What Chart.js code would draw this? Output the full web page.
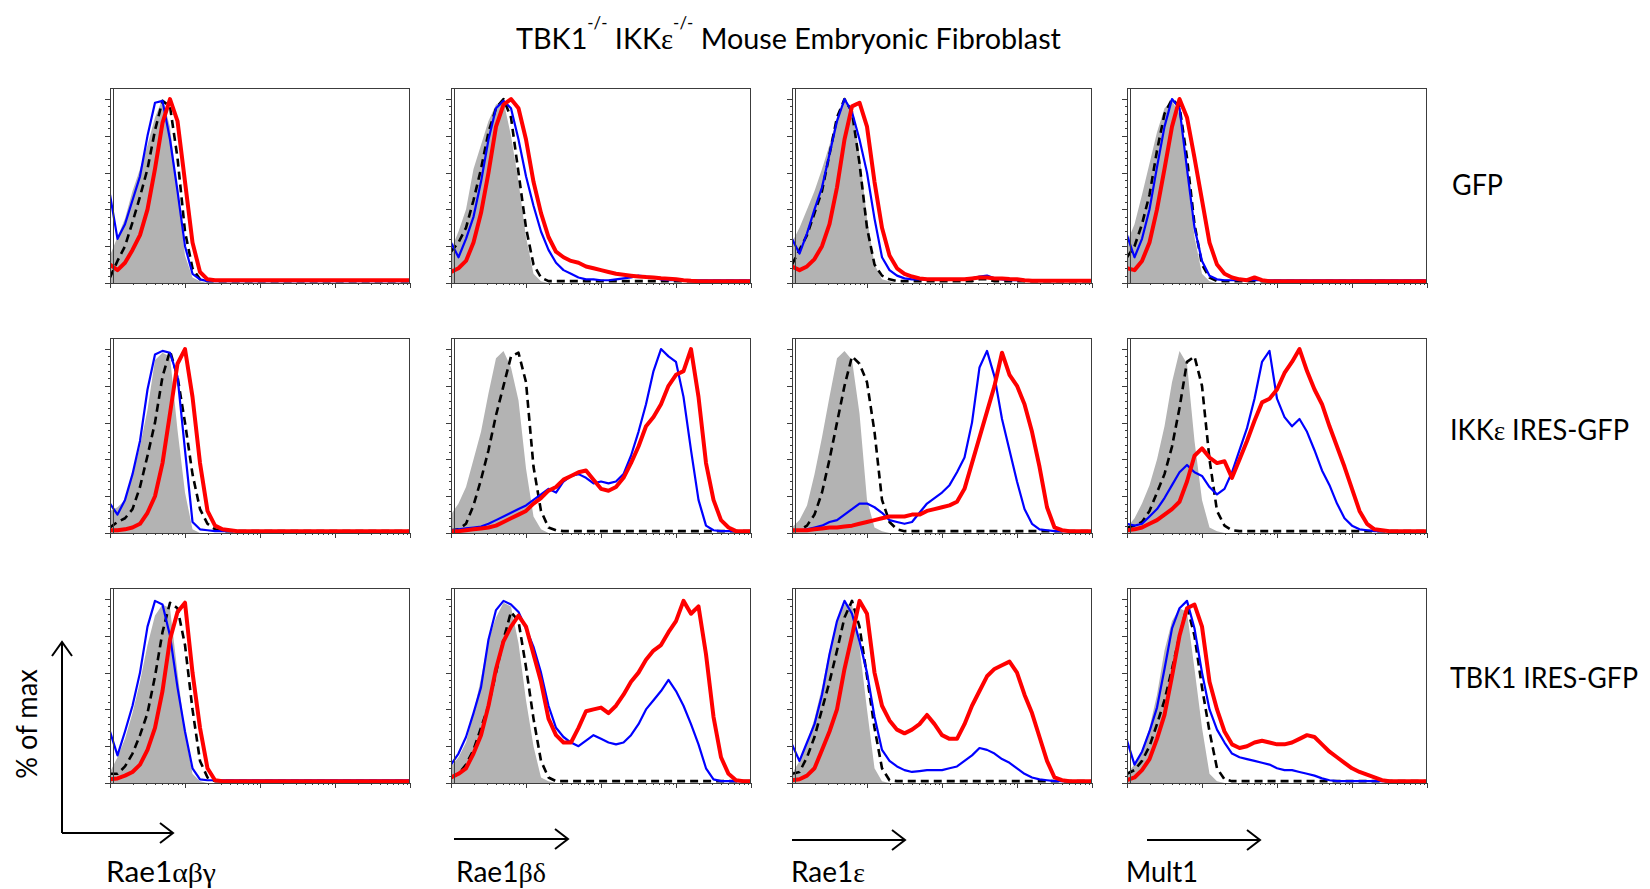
<!DOCTYPE html>
<html>
<head>
<meta charset="utf-8">
<title>TBK1 IKKε MEF histograms</title>
<script src="https://cdn.jsdelivr.net/npm/chart.js@4.4.1/dist/chart.umd.min.js"></script>
<style>
  html, body { margin: 0; padding: 0; background: #fff; }
  #fig { position: relative; width: 1650px; height: 889px; overflow: hidden; font-family: Lato, "Open Sans", sans-serif; color: #000; }
  #fig canvas { position: absolute; }
  .lbl { position: absolute; white-space: nowrap; line-height: 1; font-size: 28px; transform-origin: 0 50%; }
  .gk { font-family: "Liberation Serif", "DejaVu Serif", serif; }
  .sup { position: relative; top: -20px; font-size: 17px; }
  svg { position: absolute; left: 0; top: 0; }
</style>
</head>
<body>
<div id="fig">
  <div class="lbl" id="title" style="left:516px; top:23px; font-size:29px" data-w="545">TBK1<span class="sup">-/-</span> IKK<span class="gk">ε</span><span class="sup">-/-</span> Mouse Embryonic Fibroblast</div>
  <div class="lbl" id="ylab" data-w="110" data-rot="1">% of max</div>
  <svg width="1650" height="889">
    <g stroke="#000" stroke-width="2" fill="none">
      <path d="M62 833 V642 M52 656 L62 642 L72 656"/>
      <path d="M62 833 H173 M160 823 L173 833 L160 843"/>
      <path d="M454 839 H568 M555 829 L568 839 L555 849"/>
      <path d="M792 840 H905 M892 830 L905 840 L892 850"/>
      <path d="M1147 840 H1260 M1247 830 L1260 840 L1247 850"/>
    </g>
  </svg>
</div>
<script>
// x positions in decades of fluorescence (log axis), 0.1 decade steps
const decades = [0, 0.1, 0.2, 0.3, 0.4, 0.5, 0.6, 0.7, 0.8, 0.9,
  1, 1.1, 1.2, 1.3, 1.4, 1.5, 1.6, 1.7, 1.8, 1.9,
  2, 2.1, 2.2, 2.3, 2.4, 2.5, 2.6, 2.7, 2.8, 2.9,
  3, 3.1, 3.2, 3.3, 3.4, 3.5, 3.6, 3.7, 3.8, 3.9, 4];

const rowNames = ['GFP', 'IKKε IRES-GFP', 'TBK1 IRES-GFP'];
const colNames = ['Rae1αβγ', 'Rae1βδ', 'Rae1ε', 'Mult1'];
const yTicks = [0, 4, 8, 12, 16, 20, 24, 28, 32, 36, 40, 44, 48, 52, 56, 60, 64, 68, 72, 76, 80, 84, 88, 92, 96, 100];

// ---- GFP row (% of max) ----
const gfp_abg_grey = [15, 25, 35, 50, 62, 75, 90, 100, 85, 50,
  15, 3, 1, 0, 0, 0, 0, 0, 0, 0,
  0, 0, 0, 0, 0, 0, 0, 0, 0, 0,
  0, 0, 0, 0, 0, 0, 0, 0, 0, 0, 0];
const gfp_abg_dash = [3, 12, 20, 33, 47, 62, 83, 99, 96, 68,
  28, 8, 2, 1, 1, 1, 1, 1, 1, 1,
  1, 1, 1, 1, 1, 1, 1, 1, 1, 1,
  1, 1, 1, 1, 1, 1, 1, 1, 1, 1, 1];
const gfp_abg_blue = [48, 24, 32, 45, 58, 80, 98, 99, 78, 50,
  20, 5, 2, 1, 1, 1, 1, 1, 1, 1,
  1, 1, 1, 1, 1, 1, 1, 1, 1, 1,
  1, 1, 1, 1, 1, 1, 1, 1, 1, 1, 1];
const gfp_abg_red = [10, 7, 11, 18, 26, 40, 62, 87, 100, 88,
  55, 22, 6, 2, 1.5, 1.5, 1.5, 1.5, 1.5, 1.5,
  1.5, 1.5, 1.5, 1.5, 1.5, 1.5, 1.5, 1.5, 1.5, 1.5,
  1.5, 1.5, 1.5, 1.5, 1.5, 1.5, 1.5, 1.5, 1.5, 1.5, 1.5];

const gfp_bd_grey = [18, 28, 40, 62, 75, 88, 97, 99, 80, 55,
  25, 5, 1, 0, 0, 0, 0, 0, 0, 0,
  0, 0, 0, 0, 0, 0, 0, 0, 0, 0,
  0, 0, 0, 0, 0, 0, 0, 0, 0, 0, 0];
const gfp_bd_dash = [17, 22, 30, 45, 62, 82, 95, 100, 90, 60,
  30, 10, 3, 1, 1, 1, 1, 1, 1, 1,
  1, 1, 1, 1, 1, 1, 1, 1, 1, 1,
  1, 1, 1, 1, 1, 1, 1, 1, 1, 1, 1];
const gfp_bd_blue = [22, 14, 24, 36, 55, 78, 95, 99, 95, 78,
  58, 42, 28, 18, 11, 7, 5, 3, 2, 2,
  1.5, 1.5, 2, 2.5, 3, 4, 3.5, 3, 2, 1.5,
  1.5, 1.5, 1.5, 1.5, 1.5, 1.5, 1.5, 1.5, 1.5, 1.5, 1.5];
const gfp_bd_red = [6, 8, 12, 22, 38, 60, 85, 97, 100, 95,
  78, 55, 38, 25, 17, 14, 12, 11, 9, 8,
  7, 6, 5, 4.5, 4, 3.5, 3.2, 3, 2.6, 2.3,
  2, 1.5, 1.2, 1, 1, 1, 1, 1, 1, 1, 1];

const gfp_e_grey = [22, 30, 40, 50, 62, 75, 90, 99, 95, 70,
  35, 10, 2, 1, 0, 0, 0, 0, 0, 0,
  0, 0, 0, 0, 0, 0, 0, 0, 0, 0,
  0, 0, 0, 0, 0, 0, 0, 0, 0, 0, 0];
const gfp_e_dash = [10, 18, 26, 38, 50, 70, 90, 100, 93, 65,
  30, 10, 4, 2, 1, 1, 1, 1, 1, 1,
  1, 1, 1, 1, 1, 2, 2, 1, 1, 1,
  1, 1, 1, 1, 1, 1, 1, 1, 1, 1, 1];
const gfp_e_blue = [24, 16, 27, 40, 52, 70, 88, 100, 93, 78,
  60, 35, 14, 7, 4, 2.5, 2, 2, 2, 2,
  2, 2, 2, 2, 2.5, 3.5, 4, 2.5, 2, 1.5,
  1.5, 1.5, 1.5, 1.5, 1.5, 1.5, 1.5, 1.5, 1.5, 1.5, 1.5];
const gfp_e_red = [9, 7, 9, 13, 20, 32, 52, 78, 96, 98,
  85, 55, 30, 15, 8, 5, 3.5, 2.5, 2, 2,
  2, 2, 2, 2, 2.5, 3, 3, 2.5, 2.5, 2.2,
  2, 1.5, 1.2, 1.2, 1.2, 1.2, 1.2, 1.2, 1.2, 1.2, 1.2];

const gfp_m_grey = [22, 32, 48, 65, 82, 95, 99, 92, 60, 25,
  5, 1, 0, 0, 0, 0, 0, 0, 0, 0,
  0, 0, 0, 0, 0, 0, 0, 0, 0, 0,
  0, 0, 0, 0, 0, 0, 0, 0, 0, 0, 0];
const gfp_m_dash = [14, 20, 32, 48, 72, 92, 100, 96, 68, 32,
  10, 3, 1, 1, 1, 1, 1, 1, 1, 1,
  1, 1, 1, 1, 1, 1, 1, 1, 1, 1,
  1, 1, 1, 1, 1, 1, 1, 1, 1, 1, 1];
const gfp_m_blue = [26, 14, 24, 40, 63, 85, 100, 95, 62, 30,
  12, 4, 2, 1.5, 1.5, 1.5, 1.5, 1.5, 1.5, 1.5,
  1.5, 1.5, 1.5, 1.5, 1.5, 1.5, 1.5, 1.5, 1.5, 1.5,
  1.5, 1.5, 1.5, 1.5, 1.5, 1.5, 1.5, 1.5, 1.5, 1.5, 1.5];
const gfp_m_red = [8, 7, 12, 22, 40, 62, 85, 100, 90, 68,
  45, 22, 10, 5, 3, 2, 1.5, 3, 1.5, 1,
  1, 1, 1, 1, 1, 1, 1, 1, 1, 1,
  1, 1, 1, 1, 1, 1, 1, 1, 1, 1, 1];

// ---- IKKε IRES-GFP row ----
const ikk_abg_grey = [12, 14, 18, 32, 47, 67, 94, 98, 96, 56,
  22, 2, 0, 0, 0, 0, 0, 0, 0, 0,
  0, 0, 0, 0, 0, 0, 0, 0, 0, 0,
  0, 0, 0, 0, 0, 0, 0, 0, 0, 0, 0];
const ikk_abg_dash = [3, 6, 8, 13, 25, 42, 60, 85, 99, 85,
  60, 32, 13, 5, 2, 1, 1, 1, 1, 1,
  1, 1, 1, 1, 1, 1, 1, 1, 1, 1,
  1, 1, 1, 1, 1, 1, 1, 1, 1, 1, 1];
const ikk_abg_blue = [16, 10, 18, 32, 50, 78, 97, 99, 98, 85,
  45, 6, 2, 1.5, 1, 1, 1, 1, 1, 1,
  1, 1, 1, 1, 1, 1, 1, 1, 1, 1,
  1, 1, 1, 1, 1, 1, 1, 1, 1, 1, 1];
const ikk_abg_red = [1.5, 1.5, 2, 3, 5, 11, 20, 38, 65, 92,
  100, 74, 38, 12, 4, 2, 1.5, 1, 1, 1,
  1, 1, 1, 1, 1, 1, 1, 1, 1, 1,
  1, 1, 1, 1, 1, 1, 1, 1, 1, 1, 1];

const ikk_bd_grey = [10, 16, 25, 40, 55, 76, 95, 99, 90, 72,
  35, 9, 2, 0, 0, 0, 0, 0, 0, 0,
  0, 0, 0, 0, 0, 0, 0, 0, 0, 0,
  0, 0, 0, 0, 0, 0, 0, 0, 0, 0, 0];
const ikk_bd_dash = [1.5, 2, 5, 15, 29, 45, 64, 80, 96, 98,
  82, 36, 12, 3, 1.5, 1, 1, 1, 1, 1,
  1, 1, 1, 1, 1, 1, 1, 1, 1, 1,
  1, 1, 1, 1, 1, 1, 1, 1, 1, 1, 1];
const ikk_bd_blue = [1.5, 2, 2.5, 3, 3.5, 5, 7, 9, 11, 13,
  15, 18, 21, 24, 22, 28, 31, 32, 30, 27,
  28, 27, 28, 32, 42, 55, 70, 88, 100, 96,
  93, 74, 45, 18, 4, 1.5, 1, 1, 1, 1, 1];
const ikk_bd_red = [1, 1, 1.5, 2, 2.5, 3, 4, 6, 8, 10,
  12, 16, 19, 23, 25, 29, 31, 33, 34, 29,
  24, 23, 25, 30, 38, 47, 58, 63, 70, 80,
  86, 88, 100, 74, 38, 18, 7, 3, 1, 1, 1];

const ikk_e_grey = [3, 7, 15, 32, 52, 74, 95, 99, 94, 65,
  18, 3, 1, 0, 0, 0, 0, 0, 0, 0,
  0, 0, 0, 0, 0, 0, 0, 0, 0, 0,
  0, 0, 0, 0, 0, 0, 0, 0, 0, 0, 0];
const ikk_e_dash = [1, 1.5, 4, 10, 22, 40, 60, 80, 96, 92,
  82, 55, 18, 6, 2, 1, 1, 1, 1, 1,
  1, 1, 1, 1, 1, 1, 1, 1, 1, 1,
  1, 1, 1, 1, 1, 1, 1, 1, 1, 1, 1];
const ikk_e_blue = [1.5, 1.5, 2, 3, 4, 6, 7, 10, 13, 16,
  16, 14, 11, 7, 6, 5, 6, 11, 16, 19,
  22, 26, 33, 41, 60, 90, 99, 85, 62, 45,
  28, 13, 5, 2, 1.5, 1, 1, 1, 1, 1, 1];
const ikk_e_red = [1.5, 1.5, 1.5, 2, 2.5, 3, 3, 3.5, 4, 5,
  6, 7, 8, 9, 9, 9, 10, 10, 12, 13,
  14, 15, 17, 24, 38, 52, 66, 80, 98, 86,
  80, 70, 55, 36, 14, 3, 1.5, 1, 1, 1, 1];

const ikk_m_grey = [3, 8, 16, 26, 40, 58, 82, 99, 92, 50,
  18, 3, 1, 0, 0, 0, 0, 0, 0, 0,
  0, 0, 0, 0, 0, 0, 0, 0, 0, 0,
  0, 0, 0, 0, 0, 0, 0, 0, 0, 0, 0];
const ikk_m_dash = [3, 4, 6, 12, 22, 32, 47, 68, 93, 96,
  80, 40, 12, 4, 1.5, 1, 1, 1, 1, 1,
  1, 1, 1, 1, 1, 1, 1, 1, 1, 1,
  1, 1, 1, 1, 1, 1, 1, 1, 1, 1, 1];
const ikk_m_blue = [5, 4, 5, 9, 13, 19, 26, 33, 37, 33,
  31, 25, 21, 24, 33, 45, 57, 73, 93, 99,
  73, 63, 58, 62, 55, 45, 34, 26, 16, 8,
  4, 2, 1.5, 1, 1, 1, 1, 1, 1, 1, 1];
const ikk_m_red = [1.5, 2, 3, 5, 7, 10, 13, 17, 28, 42,
  46, 41, 38, 39, 30, 40, 50, 61, 71, 73,
  78, 87, 93, 100, 88, 78, 70, 58, 47, 36,
  24, 12, 5, 2, 1.5, 1, 1, 1, 1, 1, 1];

// ---- TBK1 IRES-GFP row ----
const tbk_abg_grey = [6, 14, 24, 38, 55, 75, 91, 97, 95, 60,
  27, 5, 1, 0, 0, 0, 0, 0, 0, 0,
  0, 0, 0, 0, 0, 0, 0, 0, 0, 0,
  0, 0, 0, 0, 0, 0, 0, 0, 0, 0, 0];
const tbk_abg_dash = [5, 5, 9, 16, 26, 38, 58, 82, 98, 95,
  75, 40, 12, 3, 1, 1, 1, 1, 1, 1,
  1, 1, 1, 1, 1, 1, 1, 1, 1, 1,
  1, 1, 1, 1, 1, 1, 1, 1, 1, 1, 1];
const tbk_abg_blue = [28, 15, 28, 42, 60, 85, 99, 97, 80, 52,
  28, 8, 2, 1.5, 1.5, 1.5, 1.5, 1.5, 1.5, 1.5,
  1.5, 1.5, 1.5, 1.5, 1.5, 1.5, 1.5, 1.5, 1.5, 1.5,
  1.5, 1.5, 1.5, 1.5, 1.5, 1.5, 1.5, 1.5, 1.5, 1.5, 1.5];
const tbk_abg_red = [2, 2.5, 4, 6, 10, 18, 30, 50, 78, 93,
  98, 60, 30, 8, 1.5, 1, 1, 1, 1, 1,
  1, 1, 1, 1, 1, 1, 1, 1, 1, 1,
  1, 1, 1, 1, 1, 1, 1, 1, 1, 1, 1];

const tbk_bd_grey = [9, 14, 22, 38, 57, 78, 90, 98, 96, 76,
  45, 20, 3, 1, 0, 0, 0, 0, 0, 0,
  0, 0, 0, 0, 0, 0, 0, 0, 0, 0,
  0, 0, 0, 0, 0, 0, 0, 0, 0, 0, 0];
const tbk_bd_dash = [3, 5, 10, 18, 30, 42, 60, 78, 93, 88,
  63, 35, 12, 3, 1, 1, 1, 1, 1, 1,
  1, 1, 1, 1, 1, 1, 1, 1, 1, 1,
  1, 1, 1, 1, 1, 1, 1, 1, 1, 1, 1];
const tbk_bd_blue = [10, 16, 25, 38, 52, 78, 94, 99, 97, 93,
  84, 74, 60, 42, 30, 25, 22, 20, 23, 26,
  24, 22, 21, 22, 26, 32, 40, 45, 50, 56,
  50, 42, 32, 21, 8, 2, 1, 1, 1, 1, 1];
const tbk_bd_red = [3, 5, 8, 16, 26, 42, 62, 77, 85, 91,
  85, 70, 55, 35, 26, 22, 22, 30, 39, 40,
  41, 38, 42, 48, 55, 60, 67, 72, 75, 82,
  88, 99, 92, 96, 70, 36, 14, 5, 1.5, 1, 1];

const tbk_e_grey = [5, 12, 22, 35, 52, 72, 89, 97, 97, 74,
  40, 8, 1, 0, 0, 0, 0, 0, 0, 0,
  0, 0, 0, 0, 0, 0, 0, 0, 0, 0,
  0, 0, 0, 0, 0, 0, 0, 0, 0, 0, 0];
const tbk_e_dash = [5, 6, 14, 25, 40, 55, 72, 90, 99, 85,
  58, 30, 8, 1.5, 1, 1, 1, 1, 1, 1,
  1, 1, 1, 1, 1, 1, 1, 1, 1, 1,
  1, 1, 1, 1, 1, 1, 1, 1, 1, 1, 1];
const tbk_e_blue = [21, 12, 22, 32, 48, 70, 88, 99, 92, 77,
  60, 36, 18, 12, 9, 7, 6, 6.5, 7, 7,
  7, 8, 9, 12, 15, 19, 18, 16, 13, 11,
  8, 5, 3, 2, 1.5, 1, 1, 1, 1, 1, 1];
const tbk_e_red = [1.5, 2, 4, 8, 18, 28, 40, 62, 80, 99,
  92, 60, 42, 34, 29, 27, 29, 32, 37, 32,
  26, 24, 24, 32, 42, 50, 58, 62, 64, 66,
  60, 48, 38, 25, 12, 3, 1.5, 1, 1, 1, 1];

const tbk_m_grey = [5, 10, 18, 30, 48, 72, 88, 95, 93, 62,
  30, 5, 1, 0, 0, 0, 0, 0, 0, 0,
  0, 0, 0, 0, 0, 0, 0, 0, 0, 0,
  0, 0, 0, 0, 0, 0, 0, 0, 0, 0, 0];
const tbk_m_dash = [5, 7, 12, 20, 32, 45, 62, 80, 96, 80,
  52, 28, 8, 2, 1, 1, 1, 1, 1, 1,
  1, 1, 1, 1, 1, 1, 1, 1, 1, 1,
  1, 1, 1, 1, 1, 1, 1, 1, 1, 1, 1];
const tbk_m_blue = [23, 10, 17, 28, 41, 62, 84, 95, 99, 84,
  60, 40, 29, 22, 16, 14, 13, 12, 11, 10,
  8, 7, 7, 6, 5, 4, 2.5, 1.5, 1, 1,
  1, 1, 1, 1, 1, 1, 1, 1, 1, 1, 1];
const tbk_m_red = [1.5, 3, 7, 13, 24, 37, 58, 80, 95, 97,
  85, 55, 40, 28, 21, 19, 20, 22, 23, 22,
  21, 21, 22, 24, 26, 25, 21, 17, 14, 11,
  8, 6, 4.5, 3, 1.5, 1, 1, 1, 1, 1, 1];

// [grey filled, black dashed, blue, red] for each row / column
const panels = [
  [[gfp_abg_grey, gfp_abg_dash, gfp_abg_blue, gfp_abg_red],
   [gfp_bd_grey, gfp_bd_dash, gfp_bd_blue, gfp_bd_red],
   [gfp_e_grey, gfp_e_dash, gfp_e_blue, gfp_e_red],
   [gfp_m_grey, gfp_m_dash, gfp_m_blue, gfp_m_red]],
  [[ikk_abg_grey, ikk_abg_dash, ikk_abg_blue, ikk_abg_red],
   [ikk_bd_grey, ikk_bd_dash, ikk_bd_blue, ikk_bd_red],
   [ikk_e_grey, ikk_e_dash, ikk_e_blue, ikk_e_red],
   [ikk_m_grey, ikk_m_dash, ikk_m_blue, ikk_m_red]],
  [[tbk_abg_grey, tbk_abg_dash, tbk_abg_blue, tbk_abg_red],
   [tbk_bd_grey, tbk_bd_dash, tbk_bd_blue, tbk_bd_red],
   [tbk_e_grey, tbk_e_dash, tbk_e_blue, tbk_e_red],
   [tbk_m_grey, tbk_m_dash, tbk_m_blue, tbk_m_red]]
];

// layout (px)
const colLeft = [110, 451, 792, 1127];
const rowTop = [88, 338, 588];
const plotW = 300, plotH = 195;
const pad = {left: 10, right: 4, top: 4, bottom: 10};

const fig = document.getElementById('fig');

// box + ticks drawn from the chart's own scales
const framePlugin = {
    id: 'frame',
    afterDraw(chart) {
        const {ctx, chartArea: a, scales} = chart;
        ctx.save();
        ctx.strokeStyle = '#3c3c3c';
        ctx.lineWidth = 1;
        ctx.strokeRect(a.left + 0.5, a.top + 0.5, a.right - a.left - 1, a.bottom - a.top);
        ctx.beginPath();
        // inner axis line (the left edge is doubled in the original)
        ctx.moveTo(a.left + 3.5, a.top);
        ctx.lineTo(a.left + 3.5, a.bottom);
        yTicks.forEach(v => {
            const py = Math.round(scales.y.getPixelForValue(v)) + 0.5;
            const len = v % 20 === 0 ? 5 : 2;
            ctx.moveTo(a.left - len, py);
            ctx.lineTo(a.left, py);
        });
        for (let d = 0; d <= 4; d++) {
            for (let k = 1; k <= 9; k++) {
                const pos = d + Math.log10(k);
                if (pos > 4) break;
                const px = Math.round(scales.x.getPixelForValue(pos)) + 0.5;
                const len = k === 1 ? 5 : 2;
                ctx.moveTo(px, a.bottom);
                ctx.lineTo(px, a.bottom + len);
            }
        }
        ctx.stroke();
        ctx.restore();
    }
};

function makePanel(r, c) {
    const [grey, dash, blue, red] = panels[r][c];
    const pts = arr => arr.map((v, i) => ({x: decades[i], y: v}));
    const canvas = document.createElement('canvas');
    canvas.width = plotW + pad.left + pad.right;
    canvas.height = plotH + pad.top + pad.bottom;
    canvas.style.left = (colLeft[c] - pad.left) + 'px';
    canvas.style.top = (rowTop[r] - pad.top) + 'px';
    fig.appendChild(canvas);

    new Chart(canvas, {
        type: 'line',
        data: {
            datasets: [
                // first dataset ends up on top
                {data: pts(red), borderColor: '#ff0000', borderWidth: 4},
                {data: pts(blue), borderColor: '#0000ff', borderWidth: 2.2},
                {data: pts(dash), borderColor: '#000000', borderWidth: 2.6, borderDash: [8, 5]},
                {data: pts(grey), borderColor: 'rgba(0,0,0,0)', borderWidth: 0,
                 backgroundColor: '#b3b3b3', fill: 'origin'}
            ]
        },
        options: {
            responsive: false,
            animation: false,
            events: [],
            layout: {padding: pad},
            elements: {
                point: {radius: 0},
                line: {tension: 0, borderJoinStyle: 'round', fill: false}
            },
            plugins: {legend: {display: false}, tooltip: {enabled: false}},
            scales: {
                x: {type: 'linear', min: 0, max: 4, display: false},
                y: {type: 'linear', min: 0, max: 106, display: false}
            }
        },
        plugins: [framePlugin]
    });
}

for (let r = 0; r < 3; r++) {
    for (let c = 0; c < 4; c++) makePanel(r, c);
}

// text labels
const greek = s => s.replace(/([α-ω])/g, '<span class="gk">$1</span>');
const rowLabelX = [1452, 1450, 1450];
const rowLabelY = [185, 430, 678];
const rowLabelW = [51, 179, 188];
const colLabelX = [106, 456, 791, 1126];
const colLabelW = [110, 90, 74, 72];

rowNames.forEach((name, i) => {
    const el = document.createElement('div');
    el.className = 'lbl';
    el.innerHTML = greek(name);
    el.style.left = rowLabelX[i] + 'px';
    el.style.top = (rowLabelY[i] - 15) + 'px';
    el.dataset.w = rowLabelW[i];
    fig.appendChild(el);
});
colNames.forEach((name, i) => {
    const el = document.createElement('div');
    el.className = 'lbl';
    el.innerHTML = greek(name);
    el.style.left = colLabelX[i] + 'px';
    el.style.top = '857px';
    el.dataset.w = colLabelW[i];
    fig.appendChild(el);
});

function fitLabels() {
    document.querySelectorAll('.lbl[data-w]').forEach(el => {
        if (el.dataset.rot) {
            el.style.transform = 'none';
            const w = el.offsetWidth, h = el.offsetHeight;
            el.style.left = (26 - w / 2) + 'px';
            el.style.top = (724 - h / 2) + 'px';
            el.style.transformOrigin = '50% 50%';
            el.style.transform = `rotate(-90deg) scaleX(${(el.dataset.w / w).toFixed(3)})`;
        } else {
            el.style.transform = 'none';
            const w = el.getBoundingClientRect().width;
            el.style.transform = `scaleX(${(el.dataset.w / w).toFixed(3)})`;
        }
    });
}
fitLabels();
if (document.fonts) document.fonts.ready.then(fitLabels);
</script>
</body>
</html>
